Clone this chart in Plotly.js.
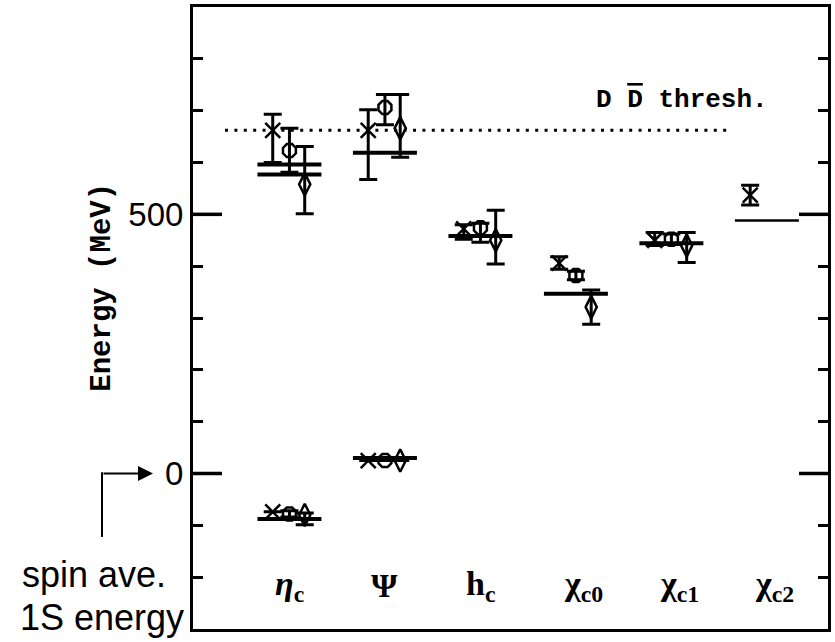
<!DOCTYPE html>
<html>
<head>
<meta charset="utf-8">
<script src="https://cdn.plot.ly/plotly-3.0.1.min.js"></script>
<style>html,body{margin:0;padding:0;background:#fff;}#chart{width:835px;height:642px;}</style>
</head>
<body>
<div id="chart"></div>
<script>
// Category labels (x positions 0..5)
const categories = ['η<sub>c</sub>', 'Ψ', 'h<sub>c</sub>', 'χ<sub>c0</sub>', 'χ<sub>c1</sub>', 'χ<sub>c2</sub>'];

// Horizontal level lines (MeV above spin-averaged 1S energy)
const levelCat = [0, 0, 0, 1, 1, 2, 3, 4, 5];
const levelVal = [-88, 577, 596, 30, 619, 458, 347, 444, 488];

// Points: η_c(1S), J/ψ, η_c(2S), ψ(2S), h_c, χc0, χc1, χc2
const ptCat = [0, 1, 0, 1, 2, 3, 4, 5];

const crossVal       = [-74, 25, 662, 662, 472, 406, 450, 537];
const crossErrPlus   = [0, 0, 31, 40, 8, 12, 15, 19];
const crossErrMinus  = [0, 0, 62, 95, 20, 12, 10, 19];

const octVal         = [-78, 25, 623, 706, 474, 382, 452, null];
const octErrPlus     = [6, 0, 43, 25, 9, 8, 10, 0];
const octErrMinus    = [6, 0, 42, 33, 28, 8, 10, 0];

const diaVal         = [-80, 25, 558, 666, 450, 321, 440, null];
const diaErrPlus     = [4, 0, 73, 65, 58, 33, 25, 0];
const diaErrMinus    = [19, 0, 57, 56, 46, 33, 33, 0];

const thresholdVal = 662;
const majorTicks = [0, 500];
const yRange = [-300, 900];

// ---- build traces ----
const HALF = 0.335;
function levelTrace(filter, width) {
  const x = [], y = [];
  levelCat.forEach((c, i) => {
    if (!filter(c)) return;
    x.push(c - HALF, c + HALF, null);
    y.push(levelVal[i], levelVal[i], null);
  });
  return {x, y, mode: 'lines', type: 'scatter', line: {color: '#000', width: width}, hoverinfo: 'skip', showlegend: false};
}

function pointTrace(vals, plus, minus, offset, symbol, size) {
  return {
    x: ptCat.map(c => c + offset), y: vals, type: 'scatter', mode: 'markers', showlegend: false,
    marker: {symbol: symbol, size: size, color: '#000', line: {color: '#000', width: 2.5}},
    error_y: {type: 'data', symmetric: false, array: plus, arrayminus: minus, color: '#000', thickness: 3, width: 9}
  };
}

const traces = [
  levelTrace(c => c !== 5, 4),
  levelTrace(c => c === 5, 2.5),
  {x: [-0.675, 4.61], y: [thresholdVal, thresholdVal], mode: 'lines', type: 'scatter', showlegend: false,
   line: {color: '#000', width: 3, dash: '3px,6.4px'}},
  pointTrace(crossVal, crossErrPlus, crossErrMinus, -0.175, 'x-thin-open', 15),
  pointTrace(octVal, octErrPlus, octErrMinus, 0, 'octagon-open', 14),
  pointTrace(diaVal, diaErrPlus, diaErrMinus, 0.16, 'diamond-tall-open', 16)
];

const serifBold = {family: 'Liberation Serif, serif', size: 34, color: '#000', weight: 'bold'};
const annotations = categories.map((t, i) => ({
  x: i, y: -217, xref: 'x', yref: 'y', text: '<b>' + (i === 0 ? '<i>η</i><sub>c</sub>' : t) + '</b>',
  showarrow: false, xanchor: 'center', yanchor: 'middle', xshift: i >= 3 ? 8 : 0, font: serifBold
}));

annotations.push(
  {x: 4.11, y: 720, xref: 'x', yref: 'y', showarrow: false, xanchor: 'center', yanchor: 'middle',
   text: '<b>D <span style="text-decoration:overline">D</span> thresh.</b>',
   font: {family: 'Liberation Mono, monospace', size: 26, color: '#000'}},
  {x: -0.142, y: 0.55, xref: 'paper', yref: 'paper', showarrow: false, textangle: -90,
   xanchor: 'center', yanchor: 'middle', text: '<b>Energy (MeV)</b>',
   font: {family: 'Liberation Mono, monospace', size: 29, color: '#000'}},
  {x: -0.2724, y: 0.087, xref: 'paper', yref: 'paper', showarrow: false, xanchor: 'left', yanchor: 'middle',
   text: 'spin ave.', font: {family: 'Liberation Sans, Arial, sans-serif', size: 36, color: '#000'}},
  {x: -0.2755, y: 0.018, xref: 'paper', yref: 'paper', showarrow: false, xanchor: 'left', yanchor: 'middle',
   text: '1S energy', font: {family: 'Liberation Sans, Arial, sans-serif', size: 36, color: '#000'}},
  {x: -0.063, y: 0, xref: 'paper', yref: 'y', text: '', showarrow: true, ax: -51, ay: 0,
   arrowhead: 2, arrowsize: 1.5, arrowwidth: 2, arrowcolor: '#000', standoff: 0}
);

// long major ticks on both sides (paper coordinates derived from the y range)
const TL = 29 / 635;
const toPaperY = v => (v - yRange[0]) / (yRange[1] - yRange[0]);
const shapes = [
  {type: 'line', xref: 'paper', yref: 'paper', x0: -0.1433, x1: -0.1433, y0: 0.148, y1: 0.252,
   line: {color: '#000', width: 2}}
];
majorTicks.forEach(v => {
  const yp = toPaperY(v);
  shapes.push({type: 'line', xref: 'paper', yref: 'paper', x0: 0, x1: TL, y0: yp, y1: yp, line: {color: '#000', width: 3.5}});
  shapes.push({type: 'line', xref: 'paper', yref: 'paper', x0: 1 - TL, x1: 1, y0: yp, y1: yp, line: {color: '#000', width: 3.5}});
});

const layout = {
  width: 835, height: 642,
  margin: {l: 193, r: 7, t: 7, b: 13, pad: 0},
  paper_bgcolor: '#fff', plot_bgcolor: '#fff',
  showlegend: false,
  xaxis: {range: [-1.01, 5.64], showgrid: false, zeroline: false, showticklabels: false, ticks: '',
          showline: true, linecolor: '#000', linewidth: 3, mirror: true, fixedrange: true},
  yaxis: {range: yRange, tick0: 0, dtick: 500, ticks: 'inside', ticklen: 10, tickwidth: 3, tickcolor: '#000',
          showticklabels: true, showgrid: false, zeroline: false,
          showline: true, linecolor: '#000', linewidth: 3, mirror: 'ticks',
          tickfont: {family: 'Liberation Sans, Arial, sans-serif', size: 33, color: '#000'},
          minor: {tick0: 0, dtick: 100, ticks: 'inside', ticklen: 10, tickwidth: 3, tickcolor: '#000', showgrid: false}},
  shapes: shapes,
  annotations: annotations
};

Plotly.newPlot('chart', traces, layout, {staticPlot: true});
</script>
</body>
</html>
